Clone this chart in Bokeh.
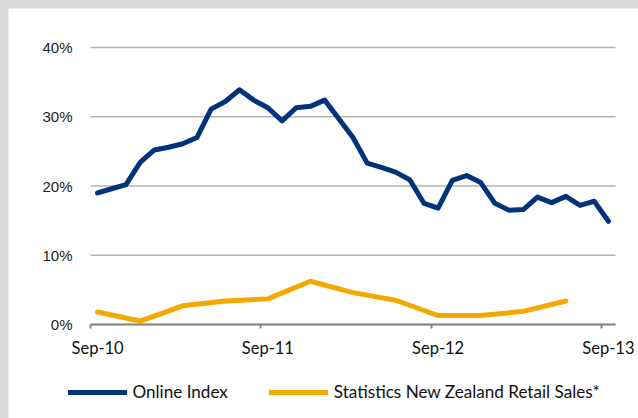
from bokeh.plotting import figure
from bokeh.models import (Range1d, LinearAxis, FixedTicker, Legend, LegendItem,
                          ColumnDataSource)
from bokeh.core.properties import value
from bokeh.embed import file_html
from bokeh.resources import INLINE

# ---- data ----
tick_labels = ["Sep-10", "Sep-11", "Sep-12", "Sep-13"]
tick_month_index = [0, 12, 24, 36]

# Monthly, Sep-10 .. Sep-13 (37 months), percent
online_index = [19.0, 19.6, 20.2, 23.4, 25.2, 25.6, 26.1, 27.0, 31.1, 32.2,
                33.9, 32.4, 31.3, 29.4, 31.3, 31.5, 32.4, 29.7, 27.0, 23.3,
                22.7, 22.0, 20.9, 17.5, 16.8, 20.8, 21.5, 20.5, 17.5, 16.5,
                16.6, 18.4, 17.6, 18.5, 17.2, 17.8, 14.9]

# Quarterly retail sales, month index from Sep-10
retail_month_index = [0, 3, 6, 9, 12, 15, 18, 21, 24, 27, 30, 33]
retail_sales = [1.8, 0.5, 2.7, 3.4, 3.7, 6.25, 4.6, 3.5, 1.3, 1.3, 1.9, 3.4]

series_names = ["Online Index", "Statistics New Zealand Retail Sales*"]
y_ticks = [0, 10, 20, 30, 40]
y_tick_labels = ["0%", "10%", "20%", "30%", "40%"]

BLUE = "#00337A"
ORANGE = "#F5A800"
FONT = "Lato"
GRID = "#b3b3b3"
AXIS = "#868686"

n_months = len(online_index)
y_top_tick = 40

# ---- layout geometry (canvas pixels) ----
W, H = 630, 450            # canvas taller than window; the extra is hidden
FRAME_L, FRAME_T, FRAME_B = 0, 0, 410
PLOT_L, PLOT_R, TOP_Y, ZERO_Y = 82, 607, 39, 316   # month 0, month n, 40%, 0%
sx = (PLOT_R - PLOT_L) / n_months
sy = (ZERO_Y - TOP_Y) / y_top_tick
x_start = -(PLOT_L - FRAME_L) / sx
x_end = x_start + (W - FRAME_L) / sx
y_start = -(FRAME_B - ZERO_Y) / sy
y_end = y_top_tick + (TOP_Y - FRAME_T) / sy

p = figure(width=W, height=H, output_backend="svg", toolbar_location=None,
           x_range=Range1d(x_start, x_end), y_range=Range1d(y_start, y_end),
           y_axis_location=None,
           min_border_left=FRAME_L, min_border_right=0, min_border_top=FRAME_T,
           min_border_bottom=H - FRAME_B)
p.outline_line_color = None
p.background_fill_color = "white"
p.border_fill_color = "white"
p.grid.grid_line_color = None

# horizontal gridlines, limited to the category span
p.segment(x0=[0] * len(y_ticks), x1=[n_months] * len(y_ticks), y0=y_ticks, y1=y_ticks,
          line_color=GRID, line_width=1.5)

# y tick labels, right-aligned left of month 0
p.text(x=[0] * len(y_ticks), y=y_ticks, text=y_tick_labels,
       x_offset=-18, text_align="right", text_baseline="middle",
       text_font=value("Liberation Sans"), text_font_size=value("15px"),
       text_color="#222222")

# x axis A: line + ticks at year boundaries, pinned at 0%
xa = p.xaxis[0]
xa.fixed_location = 0
xa.bounds = (0, n_months)
xa.ticker = FixedTicker(ticks=tick_month_index)
xa.major_label_overrides = {t: "" for t in tick_month_index}
xa.major_label_text_font_size = "1px"
xa.major_label_standoff = 0
xa.axis_line_color = AXIS
xa.axis_line_width = 2
xa.major_tick_line_color = AXIS
xa.major_tick_line_width = 2
xa.major_tick_out = 4
xa.major_tick_in = 0
xa.minor_tick_line_color = None

# x axis B: labels centred on the first month of each year
label_pos = [t + 0.5 for t in tick_month_index]
xb = LinearAxis(ticker=FixedTicker(ticks=label_pos), fixed_location=0,
                major_label_overrides={lp: lab for lp, lab in zip(label_pos, tick_labels)})
xb.axis_line_color = None
xb.major_tick_line_color = None
xb.major_tick_out = 0
xb.major_tick_in = 0
xb.minor_tick_line_color = None
xb.major_label_text_font = FONT
xb.major_label_text_font_size = "16.5px"
xb.major_label_text_color = "#111111"
xb.major_label_standoff = 13
p.add_layout(xb, "below")

# lines
src_online = ColumnDataSource(dict(x=[i + 0.5 for i in range(n_months)], y=online_index))
src_retail = ColumnDataSource(dict(x=[i + 0.5 for i in retail_month_index], y=retail_sales))

r_retail = p.line("x", "y", source=src_retail, line_color=ORANGE, line_width=5,
                  line_cap="round", line_join="round")
r_online = p.line("x", "y", source=src_online, line_color=BLUE, line_width=5,
                  line_cap="round", line_join="round")

legend = Legend(items=[LegendItem(label=series_names[0], renderers=[r_online]),
                       LegendItem(label=series_names[1], renderers=[r_retail])],
                location=(59.5 - FRAME_L, 16), orientation="horizontal",
                glyph_width=59, glyph_height=20, label_standoff=6, spacing=41,
                padding=0, margin=0, border_line_color=None,
                background_fill_alpha=0,
                label_text_font=FONT, label_text_font_size="17.1px",
                label_text_color="#111111")
p.add_layout(legend)

html = file_html(p, INLINE)
style = ("<style>html{background:#d9d9d9 !important;overflow:hidden !important;} "
         "body{margin:8px 0 0 8px !important;padding:0 !important;background:#d9d9d9 !important;"
         "overflow:hidden !important;}</style>")
html = html.replace("</head>", style + "</head>", 1)
open("out.html", "w").write(html)
